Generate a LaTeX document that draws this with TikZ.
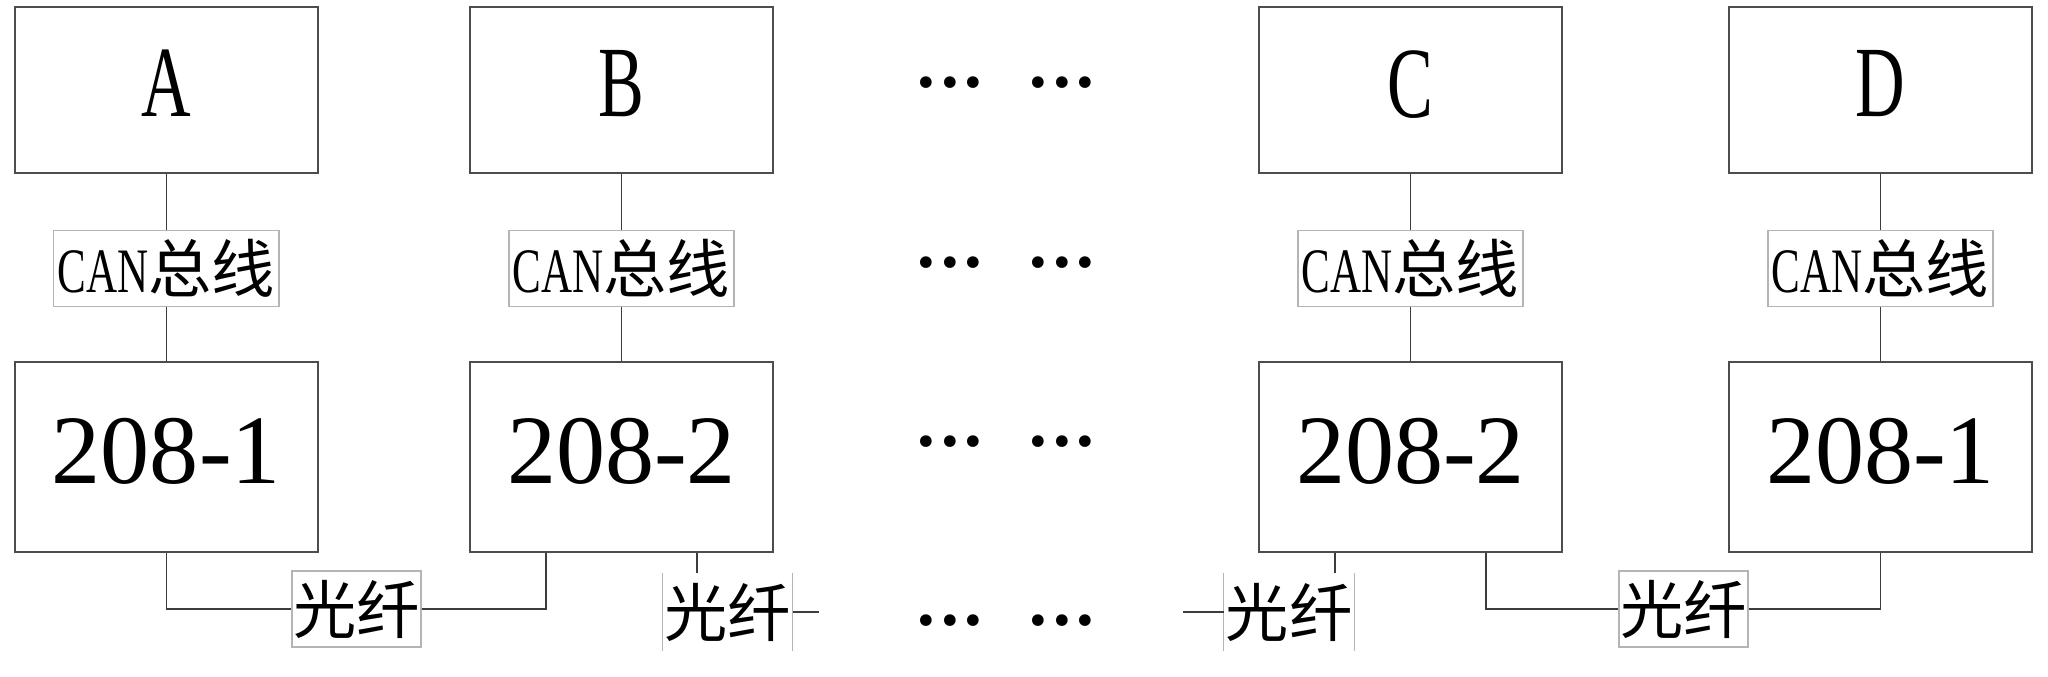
\documentclass[tikz,border=0pt]{standalone}
\usepackage{fontspec}
\usepackage{tikz}
\usetikzlibrary{positioning}
\setmainfont{Liberation Serif}
\newfontfamily\cjk{Noto Sans CJK SC}
\newfontfamily\narrow{Liberation Serif}[FakeStretch=0.68]
\newfontfamily\dotsfont{DejaVu Sans}
\definecolor{boxgray}{HTML}{4D4D4D}
\definecolor{linkgray}{HTML}{3C3C3C}
\definecolor{taggray}{HTML}{B4B4B4}

\begin{document}
\begin{tikzpicture}[x=0.01cm,y=-0.01cm,on grid,
  unit/.style={draw=boxgray,line width=0.6pt,minimum width=3.03cm,minimum height=1.66cm,
    text depth=0.13cm,font=\narrow\fontsize{28.7}{30}\selectfont},
  relay/.style={draw=boxgray,line width=0.6pt,minimum width=3.03cm,minimum height=1.9cm,
    text depth=0.12cm,font=\fontsize{27.9}{30}\selectfont},
  bus/.style={draw=taggray,line width=0.4pt,fill=white,inner sep=0pt,
    minimum width=2.25cm,minimum height=0.76cm,font=\fontsize{18}{20}\selectfont},
  fiber/.style={fill=white,inner sep=0pt,minimum width=1.29cm,minimum height=0.76cm,
    font=\cjk\fontsize{18}{20}\selectfont},
  more/.style={font=\dotsfont\fontsize{11.4}{12}\selectfont},
  link/.style={draw=linkgray,line width=0.45pt}]
  \useasboundingbox (0,0) rectangle (2048,677);
  % top units
  \node[unit] (A) at (166.3,90.2) {A};
  \node[unit] (B) at (621.5,90.2) {B};
  \node[unit] (C) at (1410.5,90.2) {C};
  \node[unit] (D) at (1880.5,90.2) {D};
  % CAN bus tags
  \node[bus] (busA) [below=1.78cm of A] {{\narrow CAN}{\cjk 总线}};
  \node[bus] (busB) [below=1.78cm of B] {{\narrow CAN}{\cjk 总线}};
  \node[bus] (busC) [below=1.78cm of C] {{\narrow CAN}{\cjk 总线}};
  \node[bus] (busD) [below=1.78cm of D] {{\narrow CAN}{\cjk 总线}};
  % 208 units
  \node[relay] (rA) [below=3.668cm of A] {208-1};
  \node[relay] (rB) [below=3.668cm of B] {208-2};
  \node[relay] (rC) [below=3.668cm of C] {208-2};
  \node[relay] (rD) [below=3.668cm of D] {208-1};
  % gaps
  \node[more] (m1) at (1006,87.5) {•••\hspace{0.41cm}•••};
  \node[more] (m2) at (1006,267) {•••\hspace{0.41cm}•••};
  \node[more] (m3) at (1006,446) {•••\hspace{0.41cm}•••};
  \node[more] (m4) at (1006,625) {•••\hspace{0.41cm}•••};
  % fiber tags
  \node[fiber,draw=taggray,line width=0.4pt] (fAB) at (356.5,609) {光纤};
  \node[fiber] (fB) at (727.5,612) {光纤};
  \node[fiber] (fC) at (1289,612) {光纤};
  \node[fiber,draw=taggray,line width=0.4pt] (fCD) at (1683.5,609) {光纤};
  \coordinate (endB) at (819,612);
  \coordinate (endC) at (1183,612);
  \foreach \t in {fB,fC}
    \draw[taggray,line width=0.4pt] (\t.north west) -- (\t.south west)
      (\t.north east) -- (\t.south east);
  % CAN links
  \foreach \u in {A,B,C,D}{
    \path[link] (\u) -- (bus\u);
    \path[link] (bus\u) -- (r\u);
  }
  % fiber links
  \path[link] (rA.south) |- (fAB.west);
  \path[link] (fAB.east) -| ([xshift=-0.755cm]rB.south);
  \path[link] ([xshift=0.755cm]rB.south) -- ([xshift=0.755cm]rB.south |- fB.north);
  \path[link] (fB.east) -- (endB);
  \path[link] ([xshift=-0.755cm]rC.south) -- ([xshift=-0.755cm]rC.south |- fC.north);
  \path[link] (endC) -- (fC.west);
  \path[link] ([xshift=0.755cm]rC.south) |- (fCD.west);
  \path[link] (fCD.east) -| (rD.south);
\end{tikzpicture}
\end{document}
